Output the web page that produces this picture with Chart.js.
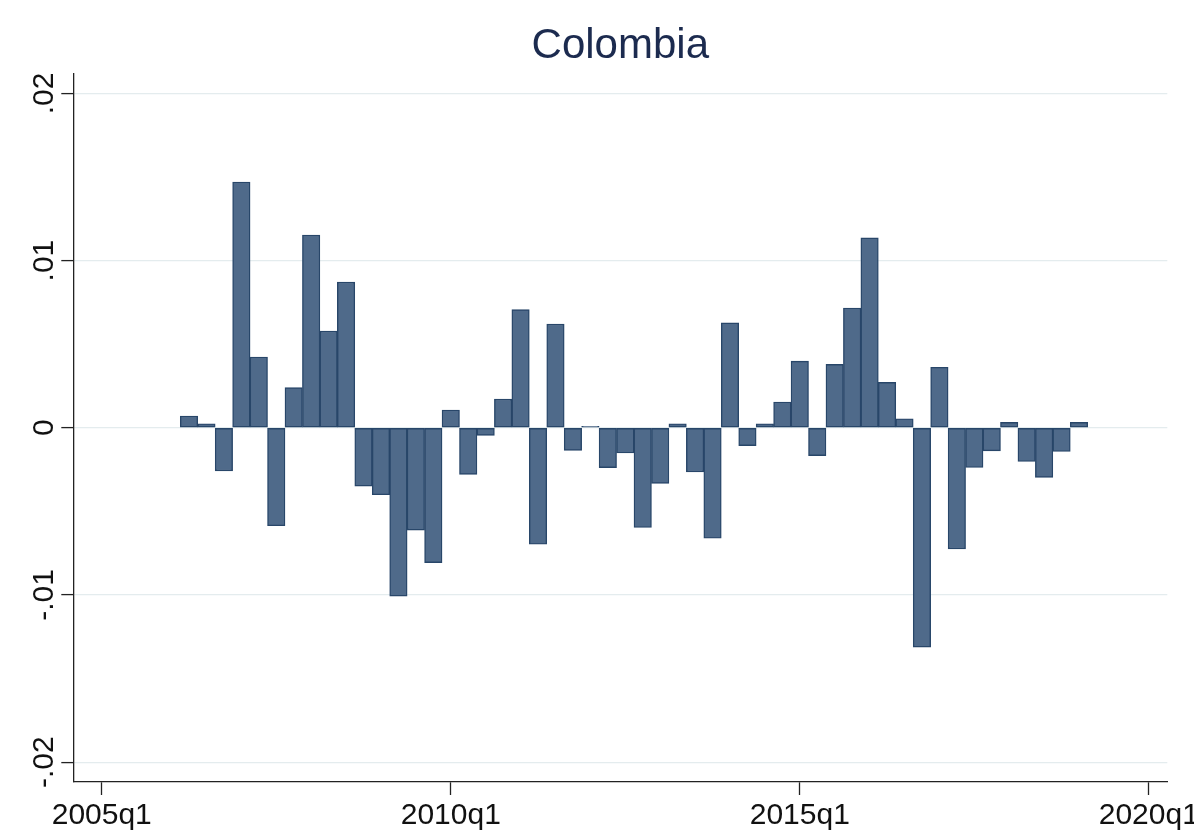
<!DOCTYPE html>
<html>
<head>
<meta charset="utf-8">
<script src="https://cdn.jsdelivr.net/npm/chart.js@4/dist/chart.umd.min.js"></script>
<style>
  html, body { margin: 0; padding: 0; background: #ffffff; }
  canvas { display: block; }
</style>
</head>
<body>
<canvas id="c" width="1194" height="836"></canvas>
<script>
// Quarterly series for Colombia
const chartTitle = 'Colombia';

const quarters = [
  '2006q2','2006q3','2006q4','2007q1','2007q2','2007q3','2007q4',
  '2008q1','2008q2','2008q3','2008q4',
  '2009q1','2009q2','2009q3','2009q4',
  '2010q1','2010q2','2010q3','2010q4',
  '2011q1','2011q2','2011q3','2011q4',
  '2012q1','2012q2','2012q3','2012q4',
  '2013q1','2013q2','2013q3','2013q4',
  '2014q1','2014q2','2014q3','2014q4',
  '2015q1','2015q2','2015q3','2015q4',
  '2016q1','2016q2','2016q3','2016q4',
  '2017q1','2017q2','2017q3','2017q4',
  '2018q1','2018q2','2018q3','2018q4',
  '2019q1'
];

const values = [
   0.00070,  0.00024, -0.00258,  0.01470,  0.00423, -0.00586,  0.00240,
   0.01153,  0.00578,  0.00871, -0.00349,
  -0.00401, -0.01007, -0.00612, -0.00807,
   0.00106, -0.00279, -0.00046,  0.00171,
   0.00706, -0.00697,  0.00620, -0.00135,
   0.00008, -0.00239, -0.00151, -0.00597,
  -0.00333,  0.00024, -0.00264, -0.00661,
   0.00627, -0.00107,  0.00024,  0.00154,
   0.00398, -0.00167,  0.00379,  0.00716,
   0.01136,  0.00271,  0.00054, -0.01312,
   0.00362, -0.00725, -0.00238, -0.00138,
   0.00032, -0.00202, -0.00297, -0.00142,
   0.00032
];

const xTickLabels = ['2005q1', '2010q1', '2015q1', '2020q1'];
const yTickValues = [-0.02, -0.01, 0, 0.01, 0.02];
const yTickLabels = ['-.02', '-.01', '0', '.01', '.02'];

// quarters counted from 2005q1
function quarterIndex(q) {
  const parts = q.split('q').map(Number);
  return (parts[0] - 2005) * 4 + (parts[1] - 1);
}

const FONT = '"Liberation Sans", Arial, Helvetica, sans-serif';

// title centred over the plot region, and vertical y-axis labels
const stataText = {
  id: 'stataText',
  afterDraw(chart) {
    const { ctx, chartArea, scales } = chart;
    ctx.save();
    ctx.fillStyle = '#1c2b4f';
    ctx.font = '42px ' + FONT;
    ctx.textAlign = 'center';
    ctx.textBaseline = 'alphabetic';
    ctx.fillText(chartTitle, (chartArea.left + chartArea.right) / 2, 58);

    ctx.fillStyle = '#111111';
    ctx.font = '30px ' + FONT;
    yTickValues.forEach((v, i) => {
      const y = scales.y.getPixelForValue(v);
      ctx.save();
      ctx.translate(53, y);
      ctx.rotate(-Math.PI / 2);
      ctx.fillText(yTickLabels[i], 0, 0);
      ctx.restore();
    });
    ctx.restore();
  }
};

new Chart(document.getElementById('c'), {
  type: 'bar',
  data: {
    datasets: [{
      data: quarters.map((q, i) => ({ x: quarterIndex(q), y: values[i] })),
      backgroundColor: '#4f6a8a',
      borderColor: '#284669',
      borderWidth: 1.4,
      borderSkipped: false,
      barPercentage: 1,
      categoryPercentage: 1
    }]
  },
  options: {
    responsive: false,
    animation: false,
    layout: { padding: { top: 73.3, right: 26.7, left: 0, bottom: 0 } },
    plugins: {
      legend: { display: false },
      tooltip: { enabled: false },
      title: { display: false }
    },
    scales: {
      x: {
        type: 'linear',
        min: -1.63,
        max: 61.06,
        offset: false,
        afterBuildTicks: s => {
          s.ticks = xTickLabels.map(l => ({ value: quarterIndex(l) }));
        },
        ticks: {
          callback: (v, i) => xTickLabels[i],
          font: { family: FONT, size: 30 },
          color: '#111111',
          padding: 3,
          maxRotation: 0,
          minRotation: 0,
          autoSkip: false
        },
        grid: {
          offset: false,
          drawOnChartArea: false,
          drawTicks: true,
          tickLength: 13,
          tickColor: '#222222',
          tickWidth: 1.3
        },
        border: { display: true, color: '#222222', width: 1.3 },
        afterFit: s => { s.height = 54; s.paddingLeft = 0; s.paddingRight = 0; }
      },
      y: {
        min: -0.02119,
        max: 0.0212,
        afterBuildTicks: s => {
          s.ticks = yTickValues.map(v => ({ value: v }));
        },
        ticks: { display: false },
        grid: {
          color: '#e4ecee',
          lineWidth: 1.2,
          drawTicks: true,
          tickLength: 12,
          tickColor: '#222222',
          tickWidth: 1.3
        },
        border: { display: true, color: '#222222', width: 1.3 },
        afterFit: s => { s.width = 73.3; s.paddingTop = 0; s.paddingBottom = 0; }
      }
    }
  },
  plugins: [stataText]
});
</script>
</body>
</html>
